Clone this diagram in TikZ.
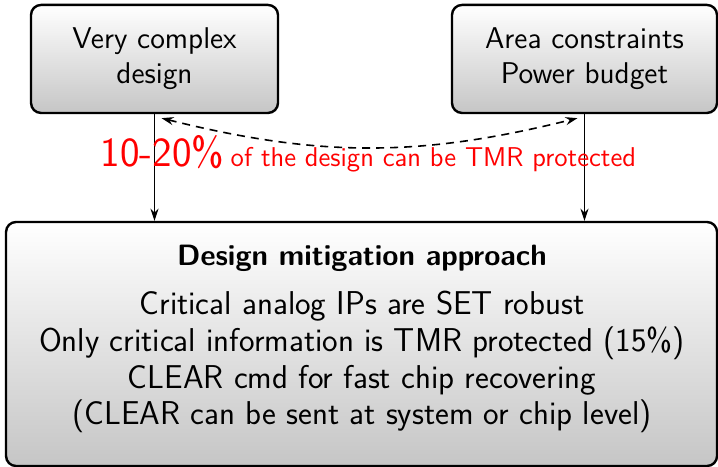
\documentclass[tikz,border=0pt]{standalone}
\usepackage{xcolor}
\usepackage{tikz}
\usetikzlibrary{arrows.meta,calc,positioning}

\tikzset{
  shadedbox/.style={draw=black, line width=1.2pt, rounded corners=5pt,
    top color=white, bottom color=gray!45, align=center,
    font=\fontsize{15}{17.5}\selectfont\sffamily},
  flowarrow/.style={-{Stealth[length=6pt,width=4pt]}, line width=0.7pt},
  tradearrow/.style={{Stealth[length=6pt,width=4pt]}-{Stealth[length=6pt,width=4pt]},
    thick, dash pattern=on 4pt off 3pt}
}

\begin{document}
\begin{tikzpicture}[font=\sffamily,>=Stealth]
\useasboundingbox (0,0) rectangle (12.617,8.206);

% =========================================================
% Top boxes
% =========================================================
\node[shadedbox, minimum width=4.34cm, minimum height=1.898cm] (veryc)
  at (2.715,7.170) {Very complex\ \\design};

\node[shadedbox, minimum width=4.657cm, minimum height=1.898cm] (area)
  at (10.271,7.170) {Area constraints\\Power budget};

% =========================================================
% Mitigation box
% =========================================================
\node[shadedbox, minimum width=12.494cm, minimum height=4.288cm] (mitig)
  at (6.353,2.161) {};

\node[font=\fontsize{14.7}{17}\selectfont\bfseries\sffamily, anchor=base] (mitigtitle)
  at (6.361,3.537) {Design mitigation approach};

\node[font=\fontsize{16.5}{18.3}\selectfont\sffamily, align=center] (mitigtext)
  at (6.361,1.840)
  {Critical analog IPs are SET robust\\
   Only critical information is TMR protected (15\%)\\
   CLEAR cmd for fast chip recovering\\
   (CLEAR can be sent at system or chip level)};

% Arrows into the mitigation box
\draw[flowarrow] (veryc.south) -- (veryc.south |- mitig.north);
\draw[flowarrow] (area.south) -- (area.south |- mitig.north);

% Trade-off between the two inputs
\draw[tradearrow] ([xshift=3.5pt,yshift=-2pt]veryc.south) to[bend right=14]
  ([xshift=-3.5pt,yshift=-2pt]area.south);

\node[text=red, anchor=base west, inner sep=0pt] (tmrlabel) at (1.76,5.277)
  {{\huge 10-20\%} {\fontsize{13.6}{16}\selectfont of the design can be TMR protected}};

\end{tikzpicture}
\end{document}
